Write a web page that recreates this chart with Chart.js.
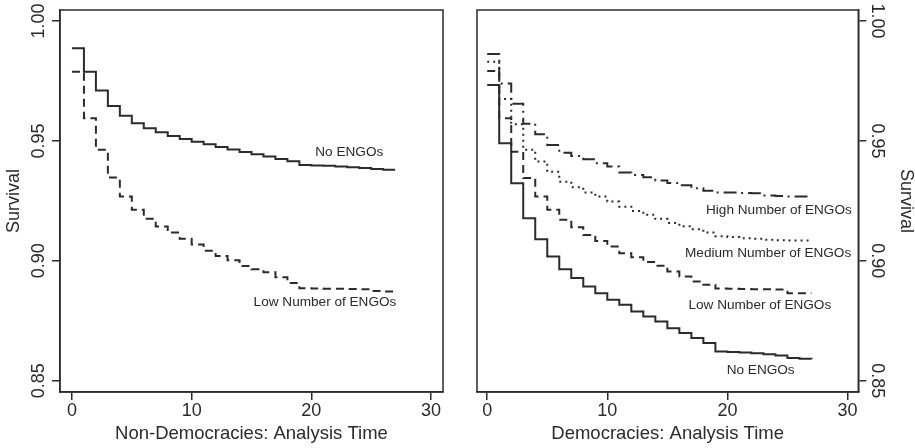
<!DOCTYPE html>
<html lang="en">
<head>
<meta charset="UTF-8">
<title>Survival by number of ENGOs</title>
<script src="https://cdn.jsdelivr.net/npm/chart.js@4.4.1/dist/chart.umd.min.js"></script>
<style>
  body { margin: 0; background: #fff; }
  #wrap { position: relative; width: 915px; height: 448px; }
  #left { position: absolute; left: 0; top: 0; }
  #right { position: absolute; left: 455px; top: 0; }
</style>
</head>
<body>
<div id="wrap">
  <canvas id="left" width="455" height="448"></canvas>
  <canvas id="right" width="460" height="448"></canvas>
</div>
<script>
// analysis time (years)
const times = [0, 1, 2, 3, 4, 5, 6, 7, 8, 9, 10, 11, 12, 13, 14, 15, 16, 17, 18, 19, 20, 21, 22, 23, 24, 25, 26, 27];

// non-democracies
const nonDemNone = [0.9886, 0.9789, 0.9710, 0.9646, 0.9605, 0.9574, 0.9553, 0.9536, 0.9521, 0.9508, 0.9497, 0.9486, 0.9475, 0.9464,
  0.9454, 0.9444, 0.9435, 0.9425, 0.9415, 0.9400, 0.9398, 0.9396, 0.9393, 0.9390, 0.9387, 0.9383, 0.9380, 0.9380];
const nonDemLow = [0.9789, 0.9595, 0.9463, 0.9347, 0.9268, 0.9213, 0.9175, 0.9143, 0.9118, 0.9092, 0.9068, 0.9042, 0.9020, 0.9002,
  0.8978, 0.8965, 0.8952, 0.8932, 0.8908, 0.8886, 0.8885, 0.8884, 0.8884, 0.8883, 0.8882, 0.8874, 0.8872, 0.8872];

// democracies
const demNone = [0.9733, 0.9490, 0.9324, 0.9178, 0.9090, 0.9018, 0.8965, 0.8928, 0.8893, 0.8865, 0.8838, 0.8817, 0.8789, 0.8768,
  0.8747, 0.8719, 0.8699, 0.8678, 0.8657, 0.8622, 0.8620, 0.8618, 0.8615, 0.8610, 0.8605, 0.8595, 0.8592, 0.8590];
const demLow = [0.9792, 0.9595, 0.9455, 0.9345, 0.9268, 0.9213, 0.9171, 0.9140, 0.9108, 0.9083, 0.9060, 0.9032, 0.9015, 0.8995,
  0.8980, 0.8955, 0.8935, 0.8914, 0.8900, 0.8885, 0.8884, 0.8883, 0.8882, 0.8882, 0.8880, 0.8865, 0.8865, 0.8865];
const demMedium = [0.9830, 0.9675, 0.9570, 0.9463, 0.9414, 0.9371, 0.9330, 0.9307, 0.9285, 0.9268, 0.9247, 0.9226, 0.9208, 0.9192,
  0.9175, 0.9158, 0.9144, 0.9132, 0.9118, 0.9102, 0.9099, 0.9094, 0.9092, 0.9088, 0.9086, 0.9085, 0.9085, 0.9085];
const demHigh = [0.9863, 0.9740, 0.9655, 0.9572, 0.9528, 0.9483, 0.9451, 0.9437, 0.9424, 0.9407, 0.9393, 0.9368, 0.9358, 0.9349,
  0.9335, 0.9325, 0.9315, 0.9303, 0.9292, 0.9285, 0.9285, 0.9283, 0.9282, 0.9272, 0.9270, 0.9268, 0.9268, 0.9268];

const xTickValues = [0, 10, 20, 30];
const yTickValues = [0.85, 0.90, 0.95, 1.00];

// curve labels, placed in data units
const leftNoteText = ['No ENGOs', 'Low Number of ENGOs'];
const leftNoteX = [23.17, 21.14];
const leftNoteY = [0.9454, 0.8828];
const rightNoteText = ['High Number of ENGOs', 'Medium Number of ENGOs', 'Low Number of ENGOs', 'No ENGOs'];
const rightNoteX = [24.29, 23.39, 22.7, 22.77];
const rightNoteY = [0.9212, 0.9033, 0.8816, 0.8545];

const ink = '#2b2b2b';
const fam = "'Liberation Sans', Arial, Helvetica, sans-serif";

function pts(ys) {
  return times.map((t, i) => ({ x: t, y: ys[i] }));
}

function curve(label, ys, dash) {
  return {
    label: label,
    data: pts(ys),
    stepped: true,
    borderColor: ink,
    borderWidth: 2,
    borderDash: dash,
    borderCapStyle: 'butt',
    borderJoinStyle: 'miter',
    pointRadius: 0,
    fill: false
  };
}

// box round the plot region
const boxPlugin = {
  id: 'box',
  afterDraw(chart) {
    const a = chart.chartArea, ctx = chart.ctx;
    ctx.save();
    ctx.strokeStyle = ink;
    ctx.lineWidth = 1.5;
    ctx.strokeRect(a.left, a.top, a.right - a.left, a.bottom - a.top);
    ctx.restore();
  }
};

// rotated y tick labels
const yLabelPlugin = {
  id: 'yLabels',
  afterDraw(chart, args, opts) {
    const s = chart.scales.y, a = chart.chartArea, ctx = chart.ctx;
    const x = opts.side === 'left' ? a.left - opts.gap : a.right + opts.gap;
    const ang = opts.side === 'left' ? -Math.PI / 2 : Math.PI / 2;
    ctx.save();
    ctx.fillStyle = ink;
    ctx.font = '18px ' + fam;
    ctx.textAlign = 'center';
    ctx.textBaseline = 'middle';
    s.ticks.forEach(t => {
      ctx.save();
      ctx.translate(x, s.getPixelForValue(t.value));
      ctx.rotate(ang);
      ctx.fillText(t.value.toFixed(2), 0, 0);
      ctx.restore();
    });
    ctx.restore();
  }
};

const notePlugin = {
  id: 'notes',
  afterDraw(chart, args, opts) {
    const ctx = chart.ctx, sx = chart.scales.x, sy = chart.scales.y;
    ctx.save();
    ctx.fillStyle = ink;
    ctx.font = '13.6px ' + fam;
    ctx.textAlign = 'center';
    ctx.textBaseline = 'middle';
    opts.text.forEach((txt, i) => {
      ctx.fillText(txt, sx.getPixelForValue(opts.x[i]), sy.getPixelForValue(opts.y[i]));
    });
    ctx.restore();
  }
};

function makeOptions(side, xTitle, xMin, xMax, pad, yWidth, yTitlePad, notes) {
  const gridStyle = { display: true, drawOnChartArea: false, drawTicks: true, tickLength: 8, color: ink, lineWidth: 1.5 };
  return {
    responsive: false,
    animation: false,
    layout: { padding: pad },
    plugins: {
      legend: { display: false },
      tooltip: { enabled: false },
      yLabels: { side: side, gap: side === 'left' ? 20.5 : 18.7 },
      notes: notes
    },
    scales: {
      x: {
        type: 'linear',
        min: xMin,
        max: xMax,
        afterBuildTicks: s => { s.ticks = xTickValues.map(v => ({ value: v })); },
        afterFit: s => { s.height = 56; },
        grid: gridStyle,
        border: { display: true, color: ink, width: 1.5 },
        ticks: { font: { family: fam, size: 18 }, color: ink, padding: 0, maxRotation: 0 },
        title: { display: true, text: xTitle, color: ink, font: { family: fam, size: 18.5, lineHeight: 1 }, padding: { top: 0, bottom: 4.8 } }
      },
      y: {
        type: 'linear',
        position: side,
        min: 0.8453,
        max: 1.0046,
        afterBuildTicks: s => { s.ticks = yTickValues.map(v => ({ value: v })); },
        afterFit: s => { s.width = yWidth; },
        grid: gridStyle,
        border: { display: true, color: ink, width: 1.5 },
        ticks: { display: false },
        title: { display: true, text: 'Survival', color: ink, font: { family: fam, size: 18, lineHeight: 1 }, padding: { top: yTitlePad, bottom: 0 } }
      }
    }
  };
}

new Chart(document.getElementById('left'), {
  type: 'line',
  data: {
    datasets: [
      curve('No ENGOs', nonDemNone, []),
      curve('Low Number of ENGOs', nonDemLow, [8, 5])
    ]
  },
  options: makeOptions('left', 'Non-Democracies: Analysis Time', -1, 31,
    { top: 10, right: 12, left: 0, bottom: 0 }, 60, 5.5,
    { text: leftNoteText, x: leftNoteX, y: leftNoteY }),
  plugins: [boxPlugin, yLabelPlugin, notePlugin]
});

new Chart(document.getElementById('right'), {
  type: 'line',
  data: {
    datasets: [
      curve('No ENGOs', demNone, []),
      curve('Low Number of ENGOs', demLow, [8, 5]),
      curve('Medium Number of ENGOs', demMedium, [2, 4]),
      curve('High Number of ENGOs', demHigh, [13, 5, 2, 5])
    ]
  },
  options: makeOptions('right', 'Democracies: Analysis Time', -0.85, 30.9,
    { top: 10, right: 0, left: 22, bottom: 0 }, 56.7, 0.5,
    { text: rightNoteText, x: rightNoteX, y: rightNoteY }),
  plugins: [boxPlugin, yLabelPlugin, notePlugin]
});
</script>
</body>
</html>
